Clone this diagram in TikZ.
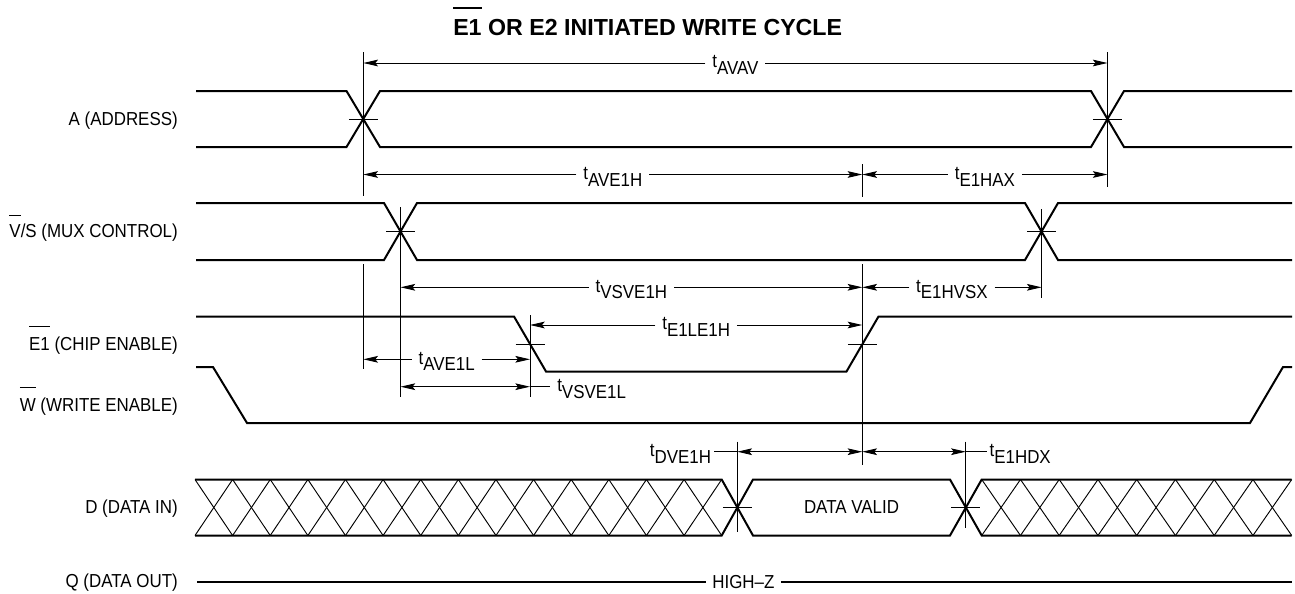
\documentclass[tikz,border=0pt]{standalone}
\usepackage{graphicx}
\usepackage{fontspec}
\setmainfont{Liberation Sans}
\usetikzlibrary{arrows.meta,calc}
\newsavebox\obbox
\newcommand\ob[3][0.8pt]{\sbox\obbox{#3}\rlap{\raisebox{#2}{\rule{\wd\obbox}{#1}}}\usebox\obbox}
\newcommand\nt[1]{\scalebox{0.9}[1]{#1}}
\newcommand\tm[1]{\nt{\raisebox{5pt}{t}#1}}
\tikzset{
  sig/.style={line width=1.5pt, line join=miter, line cap=butt},
  guide/.style={line width=0.7pt},
  hatchln/.style={line width=0.7pt},
  tl/.style={anchor=base, inner ysep=0pt, inner xsep=5pt},
  sigl/.style={anchor=base east, inner sep=0pt},
  >={Stealth[length=11pt,width=5pt,inset=2pt]}
}
\newcommand\dimlab[4]{%
  \node[tl] (#1) at ($(#2)!0.5!(#3)+(0,11.5)$) {\tm{#4}};
  \draw[guide,->] (#1.west |- #2) -- (#2);
  \draw[guide,->] (#1.east |- #3) -- (#3);
}
\begin{document}
\begin{tikzpicture}[x=0.75pt,y=-0.75pt,font=\fontsize{14.1}{16}\selectfont]
\useasboundingbox (0,0) rectangle (1295,593);

% title
\node[anchor=base west, inner sep=0pt, font=\fontsize{17.4}{20}\selectfont\bfseries] (title) at (453,35)
  {\ob[1.5pt]{19.4pt}{E1} OR E2 INITIATED WRITE CYCLE};

% signal names
\node[sigl] (lA)  at (178,125.2) {\nt{A (ADDRESS)}};
\node[sigl] (lVS) at (178,237.3) {\nt{\ob{16pt}{V}/S (MUX CONTROL)}};
\node[sigl] (lE1) at (178,350.7) {\nt{\ob{17.5pt}{E1} (CHIP ENABLE)}};
\node[sigl] (lW)  at (178,411.7) {\nt{\ob{17.5pt}{W} (WRITE ENABLE)}};
\node[sigl] (lD)  at (178,513.6) {\nt{D (DATA IN)}};
\node[sigl] (lQ)  at (178,587.8) {\nt{Q (DATA OUT)}};

% A
\draw[sig] (196,91) -- (346.5,91) -- (380,147) -- (1091,147) -- (1124,91) -- (1292,91);
\draw[sig] (196,147) -- (346.5,147) -- (380,91) -- (1091,91) -- (1124,147) -- (1292,147);
% V/S
\draw[sig] (196,203) -- (384,203) -- (417,260) -- (1025,260) -- (1058,203) -- (1292,203);
\draw[sig] (196,260) -- (384,260) -- (417,203) -- (1025,203) -- (1058,260) -- (1292,260);
% E1
\draw[sig] (196,316.5) -- (514,316.5) -- (546,371.5) -- (846.5,371.5) -- (878.5,316.5) -- (1292,316.5);
% W
\draw[sig] (196,367) -- (213,367) -- (247,423) -- (1250,423) -- (1283,367) -- (1292,367);
% D
\draw[sig] (195,479.5) -- (721.7,479.5) -- (753,535.5) -- (950,535.5) -- (981.7,479.5) -- (1291.7,479.5);
\draw[sig] (195,535.5) -- (721.7,535.5) -- (753,479.5) -- (950,479.5) -- (981.7,535.5) -- (1291.7,535.5);
\foreach \i in {0,...,13} {
  \draw[hatchln] ({195+37.62*\i},479.5) -- ({195+37.62*(\i+1)},535.5);
  \draw[hatchln] ({195+37.62*\i},535.5) -- ({195+37.62*(\i+1)},479.5);
}
\foreach \i in {0,...,7} {
  \draw[hatchln] ({981.7+38.75*\i},479.5) -- ({981.7+38.75*(\i+1)},535.5);
  \draw[hatchln] ({981.7+38.75*\i},535.5) -- ({981.7+38.75*(\i+1)},479.5);
}
\node[inner sep=0pt] (dv) at (851.5,507.5) {\nt{DATA VALID}};

% Q
\node[inner ysep=0pt, inner xsep=4.6pt] (hz) at (743.4,581.7) {\nt{HIGH–Z}};
\coordinate (qL) at (197,581.7);
\coordinate (qR) at (1291.7,581.7);
\draw[sig] (qL) -- (hz.west);
\draw[sig] (hz.east) -- (qR);

% crossing ticks
\foreach \x/\y in {363.3/119, 1107.3/119, 400.5/231.5, 1041.6/231.5, 530/344, 862.4/344, 737.3/507.5, 965.8/507.5}
  \draw[guide] (\x-14.5,\y) -- (\x+14.5,\y);

% reference lines
\draw[guide] (363.3,52) -- (363.3,196);
\draw[guide] (363.3,264) -- (363.3,369);
\draw[guide] (1107.5,52) -- (1107.5,187);
\draw[guide] (400.5,207) -- (400.5,397);
\draw[guide] (862.3,164) -- (862.3,197);
\draw[guide] (862.3,264) -- (862.3,465);
\draw[guide] (1041.6,209) -- (1041.6,298);
\draw[guide] (530,315) -- (530,397);
\draw[guide] (737.3,441.7) -- (737.3,531.7);
\draw[guide] (965.8,441.7) -- (965.8,528);

% dimensions
\coordinate (avL) at (363.3,63);   \coordinate (avR) at (1107.5,63);
\dimlab{lAVAV}{avL}{avR}{AVAV}
\coordinate (ahL) at (363.3,174.5); \coordinate (ahM) at (862.3,174.5); \coordinate (ahR) at (1107.5,174.5);
\dimlab{lAVE1H}{ahL}{ahM}{AVE1H}
\dimlab{lE1HAX}{ahM}{ahR}{E1HAX}
\coordinate (vhL) at (400.5,287.3); \coordinate (vhM) at (862.3,287.3); \coordinate (vhR) at (1041.6,287.3);
\dimlab{lVSVE1H}{vhL}{vhM}{VSVE1H}
\dimlab{lE1HVSX}{vhM}{vhR}{E1HVSX}
\coordinate (elL) at (530,325); \coordinate (elR) at (862.3,325);
\dimlab{lE1LE1H}{elL}{elR}{E1LE1H}
\coordinate (alL) at (363.3,359.3); \coordinate (alR) at (530,359.3);
\dimlab{lAVE1L}{alL}{alR}{AVE1L}

\coordinate (vlL) at (400.5,386.7); \coordinate (vlR) at (530,386.7); \coordinate (vlE) at (550,386.7);
\draw[guide,<->] (vlL) -- (vlR);
\draw[guide] (vlR) -- (vlE);
\node[anchor=base west, inner sep=0pt] (lVSVE1L) at (557,398.2) {\tm{VSVE1L}};

\coordinate (dL) at (737.3,451.7); \coordinate (dM) at (862.3,451.7); \coordinate (dR) at (965.8,451.7);
\draw[guide,<->] (dL) -- (dM);
\draw[guide,<->] (dM) -- (dR);
\node[anchor=base east, inner ysep=0pt, inner xsep=2pt] (lDVE1H) at (714,463.2) {\tm{DVE1H}};
\draw[guide] (lDVE1H.east |- dL) -- (dL);
\node[anchor=base west, inner ysep=0pt, inner xsep=2pt] (lE1HDX) at (986.7,463.2) {\tm{E1HDX}};
\draw[guide] (dR) -- (lE1HDX.west |- dR);
\end{tikzpicture}
\end{document}
